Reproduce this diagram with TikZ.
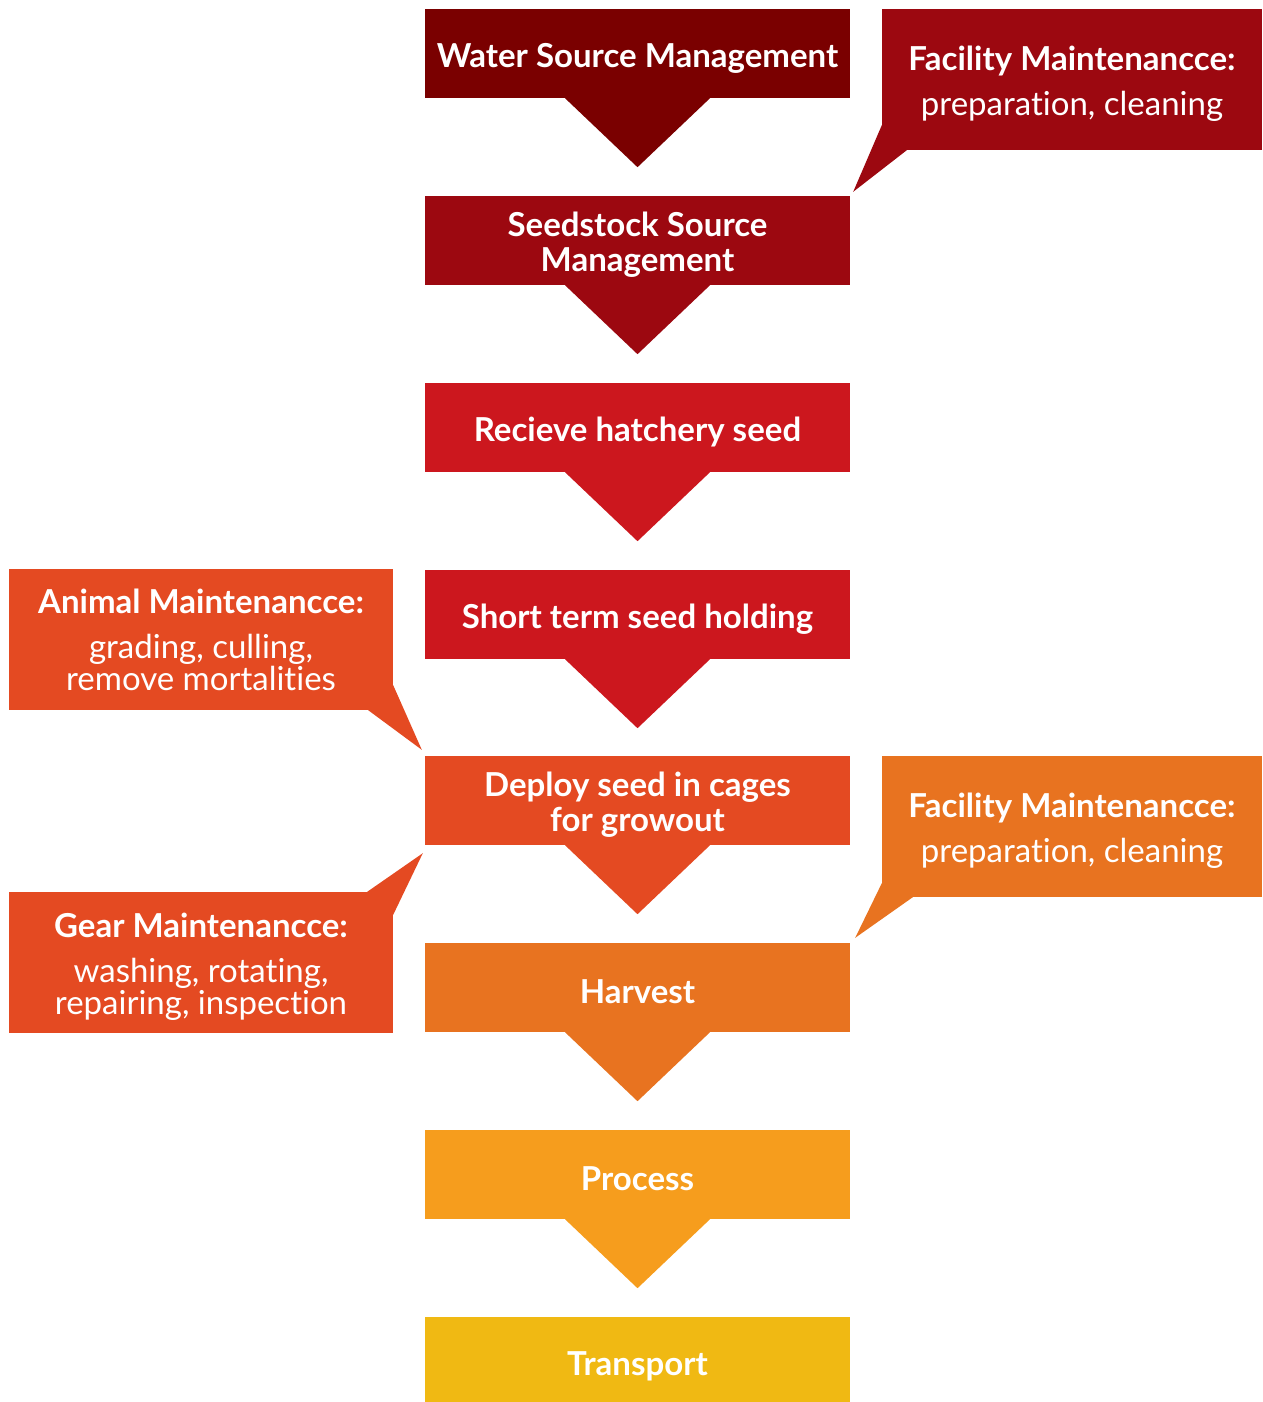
\documentclass[tikz,border=0pt]{standalone}
\usepackage{fontspec}
\setmainfont{Lato}[Ligatures=NoCommon]
\definecolor{stA}{HTML}{7A0000}
\definecolor{stB}{HTML}{9C0810}
\definecolor{stC}{HTML}{CC171E}
\definecolor{stD}{HTML}{E44A22}
\definecolor{stE}{HTML}{E87320}
\definecolor{stF}{HTML}{F69D1D}
\definecolor{stG}{HTML}{F0B913}
\newcommand\lift{\rule{0pt}{33pt}}
\begin{document}
\begin{tikzpicture}[x=1pt,y=-1pt,
  every node/.style={inner sep=0pt,text=white,align=center,font=\fontsize{33}{35}\selectfont\bfseries},
  stage/.style={minimum width=425pt,minimum height=89pt},
  note/.style={minimum width=384pt,minimum height=141pt,font=\fontsize{33}{32}\selectfont}]
  \useasboundingbox (0,0) rectangle (1262,1402);
  % stages
  \foreach \n/\y/\c/\t in {water/53.5/stA/{Water Source Management},
      seed/240.5/stB/{Seedstock Source\\Management},
      recv/427.5/stC/{Recieve hatchery seed},
      hold/614.5/stC/{Short term seed holding},
      deploy/800.5/stD/{Deploy seed in cages\\for growout},
      harvest/987.5/stE/{Harvest},
      process/1174.5/stF/{Process},
      transport/1361.5/stG/{Transport}} {
    \node[stage,fill=\c] (\n) at (637.5,\y) {\lift\t};
  }
  % arrow points under the stages
  \foreach \n/\c in {water/stA,seed/stB,recv/stC,hold/stC,deploy/stD,harvest/stE,process/stF} {
    \fill[\c] ([xshift=-72.5pt]\n.south) -- ([yshift=-69pt]\n.south) -- ([xshift=72.5pt]\n.south) -- cycle;
  }
  % callouts
  \node[note,fill=stB,minimum width=380pt] (fac1) at (1072,79.5)
    {{\lift\bfseries Facility Maintenancce:}\\[13pt]preparation, cleaning};
  \fill[stB] ([yshift=25pt]fac1.south west) -- ([shift={(3pt,4pt)}]seed.north east) -- ([xshift=25pt]fac1.south west) -- cycle;
  \node[note,fill=stD] (animal) at (201,639.5)
    {{\bfseries Animal Maintenancce:}\\[13pt]grading, culling,\\remove mortalities};
  \fill[stD] ([yshift=25pt]animal.south east) -- ([shift={(-3pt,6pt)}]deploy.north west) -- ([xshift=-25pt]animal.south east) -- cycle;
  \node[note,fill=stD] (gear) at (201,962.5)
    {{\lift\bfseries Gear Maintenancce:}\\[13pt]washing, rotating,\\repairing, inspection};
  \fill[stD] ([xshift=-26pt]gear.north east) -- ([shift={(-2pt,-8pt)}]deploy.south west) -- ([yshift=-23pt]gear.north east) -- cycle;
  \node[note,fill=stE,minimum width=380pt] (fac2) at (1072,826.5)
    {{\lift\bfseries Facility Maintenancce:}\\[13pt]preparation, cleaning};
  \fill[stE] ([yshift=14pt]fac2.south west) -- ([shift={(5pt,5pt)}]harvest.north east) -- ([xshift=31pt]fac2.south west) -- cycle;
\end{tikzpicture}
\end{document}
